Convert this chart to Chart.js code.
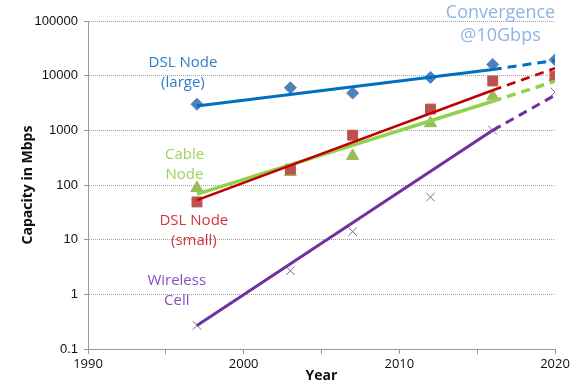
<!DOCTYPE html>
<html>
<head>
<meta charset="utf-8">
<script src="https://cdn.jsdelivr.net/npm/chart.js@4/dist/chart.umd.min.js"></script>
<style>
  html, body { margin: 0; padding: 0; background: #fff; }
  #capacityChart { display: block; }
</style>
</head>
<body>
<canvas id="capacityChart" width="574" height="384"></canvas>
<script>
"use strict";

// ========== DATA ========== //
const years = [1997, 2003, 2007, 2012, 2016, 2020];
const dslLarge = [3000, 6000, 4800, 9300, 16000, 19500];
const dslSmall = [49, 195, 815, 2450, 8000, 9800];
const cableNode = [88, 173, 340, 1350, 4200, 9400];
const wirelessCell = [0.27, 2.7, 14, 60, 1000, 5000];

// fitted trend lines (solid) and forecast (dashed)
const trendYears = [1997, 2016];
const forecastYears = [2016, 2020];
const dslLargeTrend = [2800, 13000];
const dslLargeForecast = [13000, 19000];
const dslSmallTrend = [53, 5400];
const dslSmallForecast = [5400, 13700];
const cableTrend = [68, 3400];
const cableForecast = [3400, 7900];
const wirelessTrend = [0.27, 1000];
const wirelessForecast = [1000, 4400];

const yTicks = [0.1, 1, 10, 100, 1000, 10000, 100000];

// ========== HELPERS ========== //
function toPoints(xs, ys) {
  return xs.map((x, i) => ({ x: x, y: ys[i] }));
}

function lineSet(xs, ys, color, width, dashed) {
  return {
    type: 'line',
    data: toPoints(xs, ys),
    borderColor: color,
    borderWidth: width,
    borderDash: dashed ? [9, 6] : [],
    pointRadius: 0,
    fill: false,
    tension: 0
  };
}

function pointSet(ys, style, radius, color, border) {
  return {
    type: 'scatter',
    data: toPoints(years, ys),
    pointStyle: style,
    pointRadius: radius,
    backgroundColor: color,
    borderColor: border || color,
    borderWidth: 1,
    showLine: false
  };
}

// text labels next to the series
const seriesLabels = [
  { lines: ['DSL Node', '(large)'], year: 1996.1, value: 17000, color: '#2a7fc6', size: 15 },
  { lines: ['Cable', 'Node'], year: 1996.2, value: 365, color: '#9dd35a', size: 15 },
  { lines: ['DSL Node', '(small)'], year: 1996.8, value: 22, color: '#d8323c', size: 15 },
  { lines: ['Wireless', 'Cell'], year: 1995.7, value: 1.75, color: '#8a4fc2', size: 15 },
  { lines: ['Convergence', '@10Gbps'], year: 2016.5, value: 140000, color: '#8db4e6', size: 18 }
];

const labelPlugin = {
  id: 'seriesLabels',
  afterDatasetsDraw(chart) {
    const ctx = chart.ctx;
    const xScale = chart.scales.x;
    const yScale = chart.scales.y;
    ctx.save();
    ctx.textAlign = 'center';
    ctx.textBaseline = 'middle';
    seriesLabels.forEach(lbl => {
      const px = xScale.getPixelForValue(lbl.year);
      const py = yScale.getPixelForValue(lbl.value);
      ctx.font = lbl.size + 'px "Open Sans"';
      ctx.fillStyle = lbl.color;
      lbl.lines.forEach((t, i) => {
        ctx.fillText(t, px, py + i * (lbl.size + 5));
      });
    });
    ctx.restore();
  }
};

// ========== CHART ========== //
const chartContainer = document.querySelector('#capacityChart');
const chart = new Chart(chartContainer, {
  data: {
    datasets: [
      lineSet(trendYears, dslLargeTrend, '#0070c0', 3, false),
      lineSet(forecastYears, dslLargeForecast, '#0070c0', 3, true),
      lineSet(trendYears, dslSmallTrend, '#c00000', 2.5, false),
      lineSet(forecastYears, dslSmallForecast, '#c00000', 2.5, true),
      lineSet(trendYears, cableTrend, '#92d050', 3.5, false),
      lineSet(forecastYears, cableForecast, '#92d050', 3.5, true),
      lineSet(trendYears, wirelessTrend, '#7030a0', 3, false),
      lineSet(forecastYears, wirelessForecast, '#7030a0', 3, true),
      pointSet(dslLarge, 'rectRot', 6, '#4f81bd'),
      pointSet(dslSmall, 'rect', 7, '#c0504d'),
      pointSet(cableNode, 'triangle', 7, '#9bbb59'),
      pointSet(wirelessCell, 'crossRot', 6, '#8064a2')
    ]
  },
  options: {
    responsive: false,
    animation: false,
    layout: { padding: { top: 21, right: 19, left: 0, bottom: 0 } },
    plugins: {
      legend: { display: false },
      tooltip: { enabled: false }
    },
    scales: {
      x: {
        type: 'linear',
        min: 1990,
        max: 2020,
        grid: { drawOnChartArea: false, drawTicks: true, tickLength: 5, color: '#999' },
        border: { color: '#999', width: 1 },
        ticks: {
          stepSize: 5,
          autoSkip: false,
          maxRotation: 0,
          padding: 2,
          color: '#111',
          font: { family: '"Open Sans"', size: 13 },
          callback: v => (v % 10 === 0 ? String(v) : '')
        },
        title: {
          display: true,
          text: 'Year',
          color: '#111',
          font: { family: '"Open Sans"', size: 14, weight: 'bold' },
          padding: { top: -7, bottom: 0 }
        },
        afterFit: scale => { scale.height = 35; }
      },
      y: {
        type: 'logarithmic',
        min: 0.1,
        max: 100000,
        afterBuildTicks: scale => { scale.ticks = yTicks.map(v => ({ value: v })); },
        grid: { color: '#a0a0a0', tickLength: 4, drawTicks: true, tickColor: '#999', tickBorderDash: [] },
        border: { color: '#999', width: 1, dash: [1, 1] },
        ticks: {
          padding: 6,
          color: '#111',
          font: { family: '"Liberation Sans"', size: 13 },
          callback: v => (v < 1 ? '0.1' : String(v))
        },
        title: {
          display: true,
          text: 'Capacity in Mbps',
          color: '#111',
          font: { family: '"Open Sans"', size: 14, weight: 'bold' },
          padding: { top: 20, bottom: 0 }
        },
        afterFit: scale => { scale.width = 88; }
      }
    }
  },
  plugins: [labelPlugin]
});
</script>
</body>
</html>
